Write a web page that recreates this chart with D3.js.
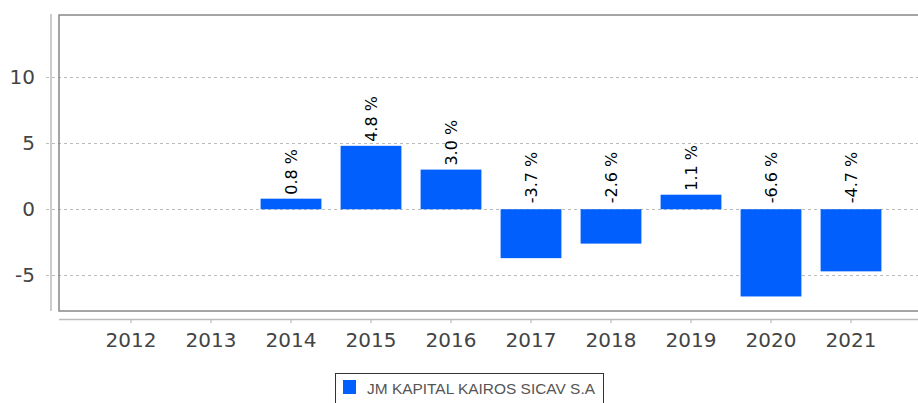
<!DOCTYPE html>
<html>
<head>
<meta charset="utf-8">
<script src="https://cdn.jsdelivr.net/npm/d3@7"></script>
<style>
  body { margin: 0; background: #fff; }
  svg { display: block; }
</style>
</head>
<body>
<div id="chart"></div>
<script>
const years = ['2012', '2013', '2014', '2015', '2016', '2017', '2018', '2019', '2020', '2021'];
const returns = [null, null, 0.8, 4.8, 3.0, -3.7, -2.6, 1.1, -6.6, -4.7];
const yTicks = [-5, 0, 5, 10];
const seriesName = 'JM KAPITAL KAIROS SICAV S.A';

const width = 918, height = 403;
const plot = { left: 59, top: 15, bottom: 311 };

const svg = d3.select('#chart').append('svg')
  .attr('width', width)
  .attr('height', height);

const x = d3.scaleBand()
  .domain(years)
  .range([91, 891])
  .paddingInner(0.24)
  .paddingOuter(0.12);

const y = d3.scaleLinear()
  .domain([-7.7, 14.7])
  .range([plot.bottom, plot.top]);

// grid
svg.append('g')
  .selectAll('line')
  .data(yTicks)
  .enter().append('line')
  .attr('x1', 46).attr('x2', width)
  .attr('y1', d => Math.round(y(d)) + 0.5)
  .attr('y2', d => Math.round(y(d)) + 0.5)
  .style('stroke', '#bbb')
  .style('stroke-dasharray', '3,3');

// y axis
const yAxis = svg.append('g')
  .attr('transform', 'translate(51,0)')
  .call(d3.axisLeft(y).tickValues(yTicks).tickFormat(d => String(d)).tickSize(0).tickPadding(16));
yAxis.select('.domain').remove();
yAxis.selectAll('text')
  .style('font-family', 'DejaVu Sans')
  .style('font-size', '20px')
  .style('fill', '#444');
svg.append('line')
  .attr('x1', 51).attr('x2', 51)
  .attr('y1', 14).attr('y2', plot.bottom)
  .style('stroke', '#bbb')
  .style('stroke-width', 1.5);

// plot frame
svg.append('rect')
  .attr('x', plot.left).attr('y', plot.top)
  .attr('width', width)
  .attr('height', plot.bottom - plot.top)
  .style('fill', 'none')
  .style('stroke', '#888')
  .style('stroke-width', 1.5);

// bars
const data = years.map((yr, i) => ({ year: yr, value: returns[i] })).filter(d => d.value !== null);

svg.append('g')
  .selectAll('rect')
  .data(data)
  .enter().append('rect')
  .attr('x', d => x(d.year))
  .attr('width', x.bandwidth())
  .attr('y', d => y(Math.max(0, d.value)))
  .attr('height', d => Math.abs(y(d.value) - y(0)))
  .style('fill', '#005ffd');

// value labels
svg.append('g')
  .selectAll('text')
  .data(data)
  .enter().append('text')
  .attr('transform', d => {
    const cx = x(d.year) + x.bandwidth() / 2;
    const top = d.value > 0 ? y(d.value) - 4 : y(0) - 6;
    return `translate(${cx + 6},${top}) rotate(-90)`;
  })
  .text(d => d.value.toFixed(1) + ' %')
  .style('font-family', 'DejaVu Sans')
  .style('font-size', '16px')
  .style('fill', '#000');

// x axis
const xAxis = svg.append('g')
  .attr('transform', 'translate(0,319)')
  .call(d3.axisBottom(x).tickSize(4).tickPadding(10));
xAxis.select('.domain').remove();
xAxis.selectAll('.tick line').style('stroke', '#aaa');
xAxis.selectAll('text')
  .style('font-family', 'DejaVu Sans')
  .style('font-size', '20px')
  .style('fill', '#444');
svg.append('line')
  .attr('x1', plot.left).attr('x2', width)
  .attr('y1', 319.5).attr('y2', 319.5)
  .style('stroke', '#bbb')
  .style('stroke-width', 1.5);

// legend
const legend = svg.append('g');
legend.append('rect')
  .attr('x', 335.5).attr('y', 373.5)
  .attr('width', 268).attr('height', 40)
  .style('fill', '#fff')
  .style('stroke', '#333');
legend.append('rect')
  .attr('x', 343).attr('y', 380)
  .attr('width', 13).attr('height', 14)
  .style('fill', '#005ffd');
legend.append('text')
  .attr('x', 367).attr('y', 394)
  .attr('textLength', 228)
  .attr('lengthAdjust', 'spacingAndGlyphs')
  .text(seriesName)
  .style('font-family', 'Liberation Sans')
  .style('font-size', '15px')
  .style('fill', '#555');
</script>
</body>
</html>
